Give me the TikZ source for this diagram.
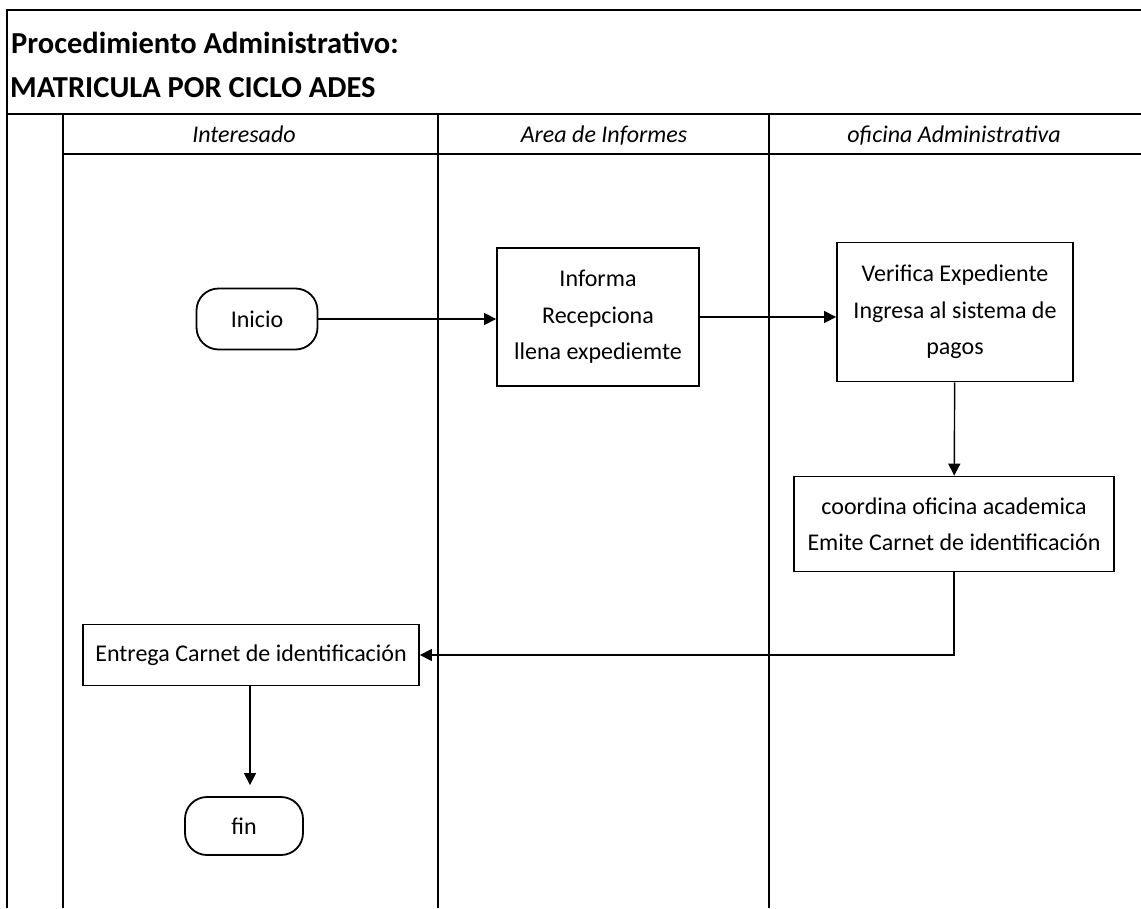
\documentclass[tikz,border=0pt]{standalone}
\usepackage{fontspec}
\setmainfont{Carlito}
\usetikzlibrary{arrows.meta}

\begin{document}
\begin{tikzpicture}[x=1pt, y=-1pt,
		frame/.style={line width=2.2pt},
		lane/.style={line width=1.4pt},
		lanetitle/.style={font=\fontsize{24}{28}\selectfont\itshape, text height=0.7em, text depth=0.2em},
		box/.style={draw, line width=1.8pt, align=center, inner sep=0pt, font=\fontsize{24}{36.5}\selectfont},
		term/.style={box, rounded corners=22pt},
		flow/.style={line width=1.4pt, -{Triangle[length=12pt,width=12pt]}}]
		\useasboundingbox (0,0) rectangle (1141,908);
		
		%title
		\draw[frame] (7,908) -- (7,10) -- (1141,10);
		\node[anchor=west, inner sep=0pt, font=\fontsize{30.5}{36}\selectfont\bfseries] (tit1) at (11,43){Procedimiento Administrativo:};
		\node[anchor=west, inner sep=0pt, font=\fontsize{30.5}{36}\selectfont\bfseries] (tit2) at (10,88){MATRICULA POR CICLO ADES};
		
		%lanes
		\draw[frame] (7,114) -- (1141,114);
		\draw[frame] (63,154) -- (1141,154);
		\foreach \x in {63, 438, 769}{
			\draw[lane] (\x,114) -- (\x,908);
		}
		\node[lanetitle] (l1) at (244,140){Interesado};
		\node[lanetitle] (l2) at (604,140){Area de Informes};
		\node[lanetitle] (l3) at (954,140){oficina Administrativa};
		
		%steps
		\node[term, minimum width=121, minimum height=61] (inicio) at (257,319){Inicio};
		\node[box, minimum width=202, minimum height=138] (informa) at (598,317){Informa\\Recepciona\\llena expediemte};
		\node[box, minimum width=236, minimum height=139] (verif) at (955,312){Verifica Expediente\\Ingresa al sistema de\\pagos};
		\node[box, minimum width=320, minimum height=95] (coord) at (954,524){coordina oficina academica\\Emite Carnet de identificación};
		\node[box, minimum width=336, minimum height=61] (entrega) at (251,655){Entrega Carnet de identificación};
		\node[term, minimum width=118, minimum height=58] (fin) at (244,826){fin};
		
		\draw[flow] (inicio.east) -- (inicio.east -| informa.west);
		\draw[flow] (informa.east) -- (informa.east -| verif.west);
		\draw[flow] (verif) -- (coord);
		\draw[flow] (coord.south) |- (entrega.east);
		\draw[flow, shorten >=11pt] (entrega.south -| 250,0) -- (fin.north -| 250,0);
\end{tikzpicture}
\end{document}
